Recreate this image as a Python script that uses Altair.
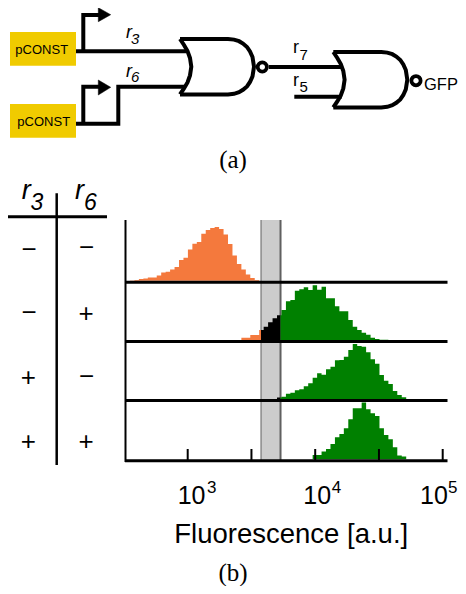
import altair as alt
import pandas as pd

# ---- histogram values: bar heights per bin, one list per condition ----
ROW1_FIRST_BIN = 0
ROW1 = [0.3, 0.7, 1.7, 2.3, 3.3, 3.3, 5.3, 8.3, 9, 11.3, 13.7, 20.7, 23, 31.3, 37, 38.7, 47, 50.7,
        52.7, 53.7, 51.7, 46.3, 36.7, 25.3, 16.7, 11.3, 6.3, 2.7, 0.7]
ROW2_FIRST_BIN = 25
ROW2 = [2.3, 2.3, 5, 5, 10, 13.3, 17.7, 21.7, 24.7, 30, 38.7, 40, 49.3, 50.7, 52.7, 50, 54.7, 50.3,
        53.3, 41.7, 41.7, 33.7, 28.7, 28.7, 20, 13.3, 10, 7.3, 5.3, 2.3, 1, 0.3, 0.3]
ROW3_FIRST_BIN = 33
ROW3 = [1.5, 2.3, 5.3, 6.3, 8.7, 9.7, 12.7, 15.7, 21.3, 25.7, 24.3, 29.7, 32.3, 38.7, 39, 42.3, 49,
        55, 53, 52.3, 46.7, 39.7, 35.3, 24, 18.3, 15, 8, 4, 1.7]
ROW4_FIRST_BIN = 41
ROW4 = [4.3, 4.3, 7.7, 10.3, 15.3, 22, 25.3, 31, 40, 51, 51, 56.7, 50, 46, 43.3, 31, 24.3, 20, 12, 3.7, 2.7]
ROW_BASELINES = [280.7, 340, 399, 459.3]
ROW_LINES = [282.2, 341.5, 400.5, 460.7]

LOG_BIN_START = 2.5475
LOG_BIN_WIDTH = 0.03494
GATE_LOW = 3.575
GATE_HIGH = 3.728
TICK_EXP = [3, 3.5, 4, 4.5, 5]

ORANGE = "#f4793d"
GREEN = "#008000"
YELLOW = "#f0cb00"

SANS = "Liberation Sans"
SERIF = "Liberation Serif"
W, H = 450, 578

page_x = alt.Scale(domain=[8, 8 + W], range=[0, W])
page_y = alt.Scale(domain=[8, 8 + H], range=[0, H])
log_x = alt.Scale(type="log", domain=[1000, 100000], range=[179.7, 434.7])


def X(f="x"):
    return alt.X(f"{f}:Q", scale=page_x, axis=None)


def Y(f="y"):
    return alt.Y(f"{f}:Q", scale=page_y, axis=None)


def text(items, size, font=SANS, style="normal", align="left"):
    df = pd.DataFrame(items, columns=["t", "x", "y"])
    return alt.Chart(df).mark_text(fontSize=size, font=font, fontStyle=style, align=align,
                                   baseline="alphabetic", color="#000").encode(x=X(), y=Y(), text="t:N")


def poly(points, width=4):
    df = pd.DataFrame(points, columns=["x", "y"]).reset_index()
    return alt.Chart(df).mark_line(color="#000", strokeWidth=width, strokeCap="butt", strokeJoin="miter").encode(
        x=X(), y=Y(), order="index:Q")


def triangle(points):
    df = pd.DataFrame(points, columns=["x", "y"]).reset_index()
    return alt.Chart(df).mark_line(color="#000", fill="#000", strokeWidth=0.5).encode(
        x=X(), y=Y(), order="index:Q")


def box(x, x2, y, y2, fill):
    df = pd.DataFrame([dict(x=x, x2=x2, y=y, y2=y2)])
    return alt.Chart(df).mark_rect(fill=fill).encode(x=X(), x2="x2:Q", y=Y(), y2="y2:Q")


def circle(x, y):
    df = pd.DataFrame([dict(x=x, y=y)])
    return alt.Chart(df).mark_point(shape="circle", size=85, filled=False, stroke="#000", strokeWidth=3.8,
                                    opacity=1).encode(x=X(), y=Y())


GATE_FRONT = [(180, 39), (228, 39), (234, 39.6), (239, 41.2), (243, 43.6), (247, 47), (250, 51.5),
              (252.5, 57), (254, 66.7), (252.5, 76.4), (250, 82), (247, 86.4), (243, 89.8), (239, 92.2),
              (234, 93.8), (228, 94.4), (180, 94.4)]
GATE_BACK = [(180, 39), (184, 45), (187.5, 51), (190, 58), (191.3, 66.7), (190, 75.4), (187.5, 82.4),
             (184, 88.4), (180, 94.4)]


def gate(dx, dy):
    return [poly([(a + dx, b + dy) for a, b in GATE_FRONT]), poly([(a + dx, b + dy) for a, b in GATE_BACK])]


def hist(values, first, base):
    recs = []
    for i, h in enumerate(values):
        lo = LOG_BIN_START + (first + i) * LOG_BIN_WIDTH
        hi = lo + LOG_BIN_WIDTH
        for a, b, name in [(lo, min(hi, GATE_LOW), "off"),
                           (max(lo, GATE_LOW), min(hi, GATE_HIGH), "gate"),
                           (max(lo, GATE_HIGH), hi, "on")]:
            if b > a:
                recs.append(dict(f=10 ** a, h=h, z=0, name=name))
                recs.append(dict(f=10 ** (b - 0.00002), h=h, z=0, name=name))
    yscale = alt.Scale(domain=[0, 60], range=[base - 8, base - 68])
    colors = alt.Scale(domain=["off", "gate", "on"], range=[ORANGE, "#000000", GREEN])
    return alt.Chart(pd.DataFrame(recs)).mark_area(interpolate="linear", strokeWidth=0).encode(
        x=alt.X("f:Q", scale=log_x, axis=None),
        y=alt.Y("h:Q", scale=yscale, axis=None), y2="z:Q",
        fill=alt.Fill("name:N", scale=colors, legend=None))


band = alt.Chart(pd.DataFrame([dict(a=10 ** GATE_LOW, b=10 ** GATE_HIGH, y=220, y2=461)])).mark_rect(
    fill="#cccccc").encode(
    x=alt.X("a:Q", scale=log_x, axis=None), x2="b:Q", y=Y(), y2="y2:Q")


def band_edge(exp, width):
    df = pd.DataFrame([dict(f=10 ** exp, y=220, y2=461)])
    return alt.Chart(df).mark_rule(color="#606060", strokeWidth=width).encode(
        x=alt.X("f:Q", scale=log_x, axis=None), y=Y(), y2="y2:Q")


ticks = alt.Chart(pd.DataFrame({"f": [10 ** e for e in TICK_EXP], "y": [449] * 5, "y2": [461] * 5})).mark_rule(
    color="#000", strokeWidth=2).encode(x=alt.X("f:Q", scale=log_x, axis=None), y=Y(), y2="y2:Q")

layers = [
    # (a) circuit
    box(10, 76, 32, 65.7, YELLOW),
    box(10, 76, 104, 137.7, YELLOW),
    poly([(76, 51.3), (186, 51.3)]),
    poly([(83.3, 51.3), (83.3, 15), (99, 15)]),
    triangle([(98.3, 7.7), (110.7, 14.7), (98.3, 21.7), (98.3, 7.7)]),
    poly([(76, 123.7), (118.3, 123.7), (118.3, 86.7), (185, 86.7)]),
    poly([(83.3, 123.7), (83.3, 86.7), (99, 86.7)]),
    triangle([(98.3, 80), (110.7, 87.3), (98.3, 95), (98.3, 80)]),
    poly([(269, 67), (343, 67)]),
    poly([(294.3, 96.7), (341.7, 96.7)]),
    *gate(0, 0),
    *gate(153.3, 13),
    circle(262.3, 67),
    circle(416, 80.7),
    text([("pCONST", 41.7, 54), ("pCONST", 43.7, 126)], 13, align="center"),
    text([("r", 126, 38), ("r", 126, 76.7)], 18, style="italic"),
    text([("3", 131, 44), ("6", 131, 82.3)], 15, style="italic"),
    text([("r", 293, 53.3), ("r", 293, 86)], 18),
    text([("7", 299.5, 60), ("5", 299.5, 91.7)], 15),
    text([("GFP", 424, 90)], 16.5),
    text([("(a)", 233, 168)], 25, font=SERIF, align="center"),
    # (b) table
    poly([(6.7, 216.7), (107, 216.7)], 3),
    poly([(56.7, 193.3), (56.7, 465)], 2.5),
    text([("r", 21.7, 199), ("r", 75, 199)], 27, style="italic"),
    text([("3", 30.5, 210), ("6", 84, 210)], 23, style="italic"),
    text([("\u2212", 29, 257.5), ("\u2212", 86.7, 256), ("\u2212", 29, 320.5), ("+", 86, 321.5),
          ("+", 28.3, 386), ("\u2212", 86.7, 384.5), ("+", 28.3, 449.5), ("+", 86, 449.5)], 26, align="center"),
    # (b) histograms
    band,
    band_edge(GATE_LOW, 1),
    band_edge(GATE_HIGH, 2),
    hist(ROW1, ROW1_FIRST_BIN, ROW_BASELINES[0]),
    hist(ROW2, ROW2_FIRST_BIN, ROW_BASELINES[1]),
    hist(ROW3, ROW3_FIRST_BIN, ROW_BASELINES[2]),
    hist(ROW4, ROW4_FIRST_BIN, ROW_BASELINES[3]),
    *[poly([(125, y), (447.5, y)], 3) for y in ROW_LINES],
    poly([(125.5, 220), (125.5, 462)], 2),
    ticks,
    text([("10", 177.7, 504), ("10", 303.3, 504), ("10", 420, 504)], 25),
    text([("3", 207, 493), ("4", 331.7, 493), ("5", 448, 493)], 17),
    text([("Fluorescence [a.u.]", 174.3, 542.7)], 27.5),
    text([("(b)", 233, 581)], 25, font=SERIF, align="center"),
]

chart = alt.layer(*layers).resolve_scale(
    x="independent", y="independent", fill="independent"
).properties(width=W, height=H, padding=0, autosize=alt.AutoSizeParams(type="none"),
             background="white").configure_view(strokeWidth=0)

chart.save("out.html", embed_options={"renderer": "svg", "actions": False})
